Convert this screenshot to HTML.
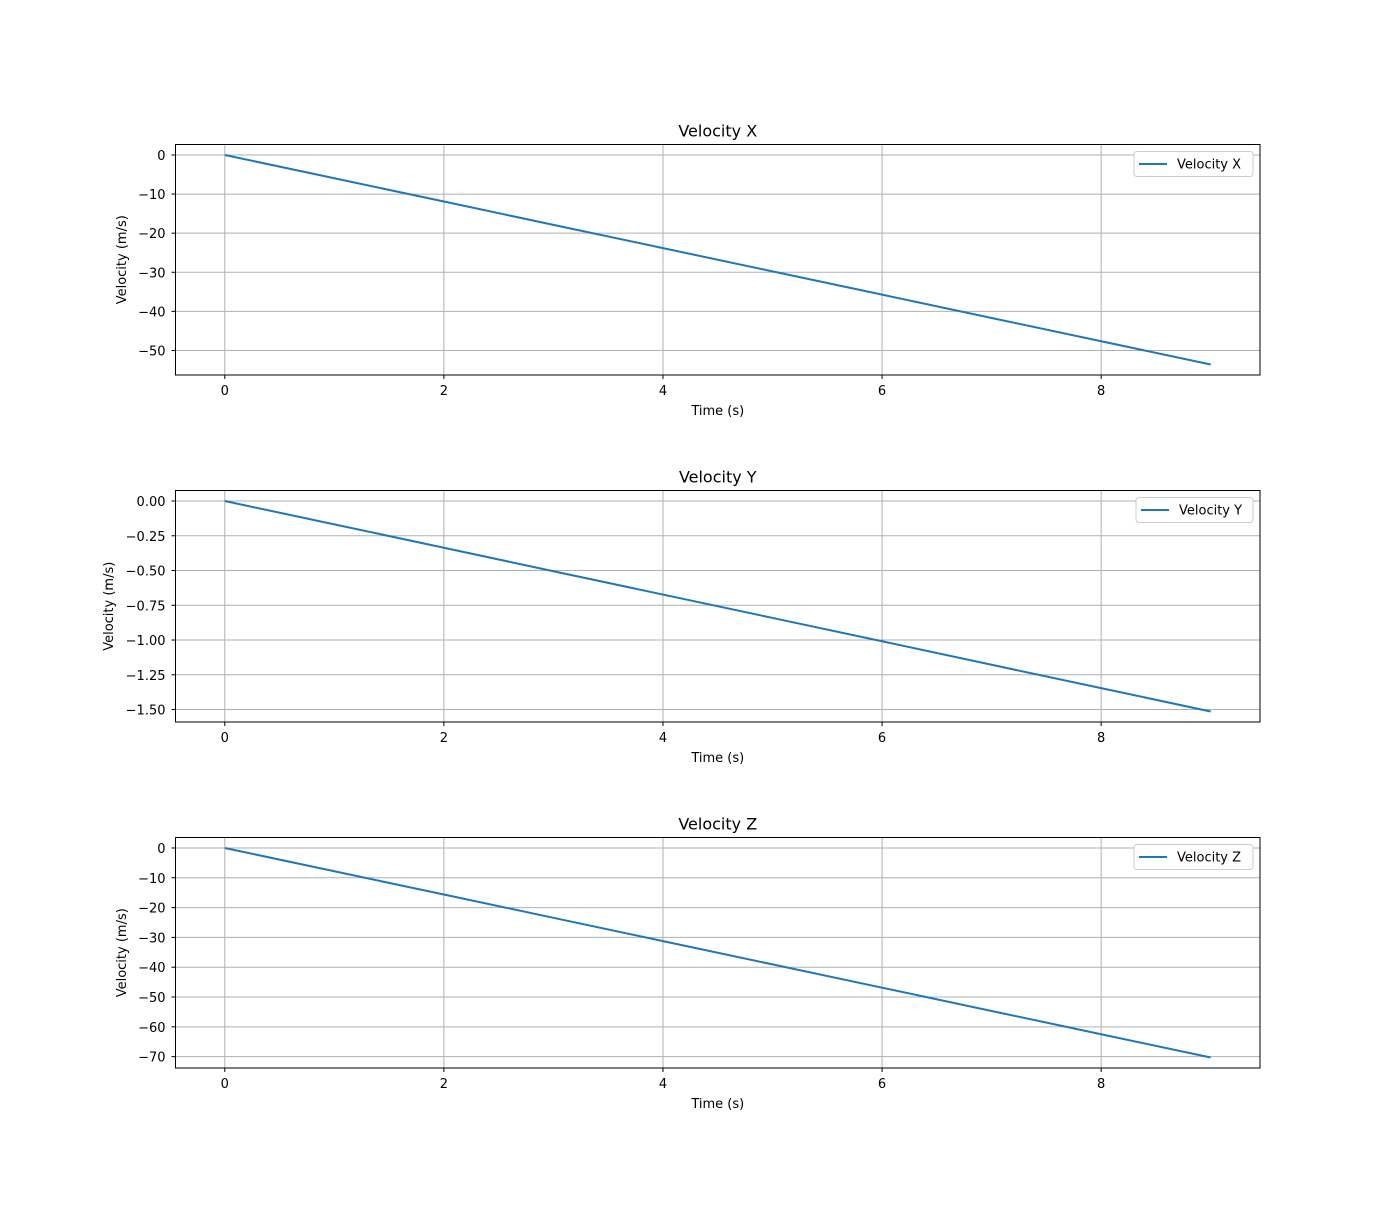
<!DOCTYPE html>
<html><head><meta charset="utf-8"><style>
body{margin:0;background:#fff;}
svg text{font-family:"DejaVu Sans","Liberation Sans",sans-serif;fill:#000;}
</style></head><body>
<svg id="chart" width="1400" height="1200" xmlns="http://www.w3.org/2000/svg"></svg>
<script>
const times = [0,1,2,3,4,5,6,7,8,9];
const velX = [0,-5.96,-11.91,-17.87,-23.82,-29.78,-35.73,-41.69,-47.64,-53.6];
const velY = [0,-0.168,-0.336,-0.505,-0.673,-0.841,-1.009,-1.178,-1.346,-1.514];
const velZ = [0,-7.81,-15.62,-23.43,-31.24,-39.06,-46.87,-54.68,-62.49,-70.3];
const xTicks = [0,2,4,6,8];
const yTicksX = [0,-10,-20,-30,-40,-50];
const yTicksY = [0,-0.25,-0.5,-0.75,-1.0,-1.25,-1.5];
const yTicksZ = [0,-10,-20,-30,-40,-50,-60,-70];
const titles = ["Velocity X","Velocity Y","Velocity Z"];

const svg = document.getElementById('chart');
const NS = "http://www.w3.org/2000/svg";
function mk(tag, attrs, parent){const e=document.createElementNS(NS,tag);for(const k in attrs)e.setAttribute(k,attrs[k]);(parent||svg).appendChild(e);return e;}

const panels = [
 {data:velX, ticks:yTicksX, top:144.5, bottom:375, dec:0, key:'x', ylabX:126},
 {data:velY, ticks:yTicksY, top:490.5, bottom:722, dec:2, key:'y', ylabX:113},
 {data:velZ, ticks:yTicksZ, top:837.5, bottom:1068, dec:0, key:'z', ylabX:126}
];
const L=175.5, R=1260;
panels.forEach((p,i)=>{
  const g = mk('g',{});
  
  
  const xmin=Math.min(...times), xmax=Math.max(...times), xm=(xmax-xmin)*0.05;
  const ymin=Math.min(...p.data), ymax=Math.max(...p.data), ym=(ymax-ymin)*0.05;
  const sx=v=>L+(v-(xmin-xm))/((xmax+xm)-(xmin-xm))*(R-L);
  const sy=v=>p.bottom-(v-(ymin-ym))/((ymax+ym)-(ymin-ym))*(p.bottom-p.top);
  // grid
  xTicks.forEach(t=>{
    const x=sx(t);
    const gl=mk('line',{x1:x,x2:x,y1:p.top,y2:p.bottom,stroke:'#b0b0b0','stroke-width':1},g);
    
    
    mk('line',{x1:x,x2:x,y1:p.bottom,y2:p.bottom+4,stroke:'#000'},g);
    const tx=mk('text',{x:x,y:p.bottom+20,'text-anchor':'middle','font-size':13},g);
    tx.textContent=t;
    
    
  });
  p.ticks.forEach(t=>{
    const y=sy(t);
    const gl=mk('line',{x1:L,x2:R,y1:y,y2:y,stroke:'#b0b0b0','stroke-width':1},g);
    
    
    mk('line',{x1:L-4,x2:L,y1:y,y2:y,stroke:'#000'},g);
    const tx=mk('text',{x:L-10,y:y+5,'text-anchor':'end','font-size':13},g);
    tx.textContent=(t<0?'\u2212':'')+Math.abs(t).toFixed(p.dec);
    
    
  });
  // line
  const pts=times.map((t,k)=>sx(t)+','+sy(p.data[k])).join(' ');
  const pl=mk('polyline',{points:pts,fill:'none',stroke:'#1f77b4','stroke-width':2},g);
  
  
  // frame
  const fr=mk('rect',{x:L,y:p.top,width:R-L,height:p.bottom-p.top,fill:'none',stroke:'#000','stroke-width':1},g);
  
  
  // title
  const ti=mk('text',{x:(L+R)/2,y:p.top-8,'text-anchor':'middle','font-size':16},g);
  ti.textContent=titles[i];
  
  
  const xl=mk('text',{x:(L+R)/2,y:p.bottom+40,'text-anchor':'middle','font-size':13},g);
  xl.textContent='Time (s)';
  
  
  const cy=(p.top+p.bottom)/2;
  const yl=mk('text',{x:p.ylabX,y:cy,'text-anchor':'middle','font-size':13,transform:'rotate(-90 '+p.ylabX+' '+cy+')'},g);
  yl.textContent='Velocity (m/s)';
  
  
  // legend
  const lg=mk('g',{},g);
  
  
  const lw=i===1?117:119;
  mk('rect',{x:R-7-lw,y:p.top+7,width:lw,height:25,rx:3,fill:'#fff',stroke:'#ccc'},lg);
  mk('line',{x1:R-7-lw+5,x2:R-7-lw+33,y1:p.top+19.5,y2:p.top+19.5,stroke:'#1f77b4','stroke-width':2},lg);
  const lt=mk('text',{x:R-7-lw+43,y:p.top+24,'font-size':13},lg);
  lt.textContent=titles[i];
  
  
});
</script>
</body></html>
